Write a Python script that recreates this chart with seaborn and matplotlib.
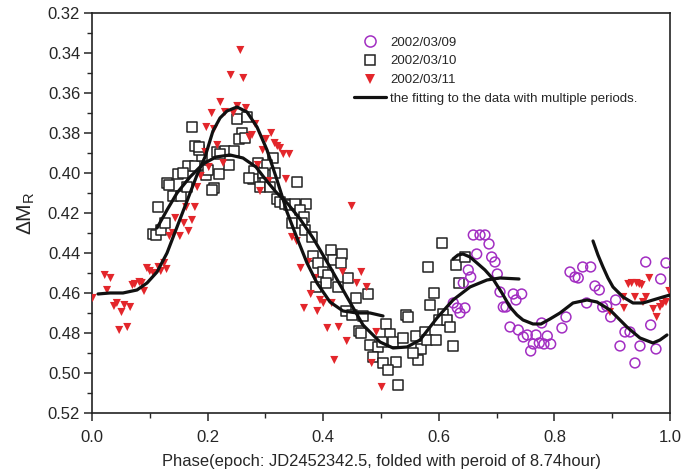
import numpy as np
import pandas as pd
import matplotlib
matplotlib.use("Agg")
import matplotlib.pyplot as plt
from matplotlib.lines import Line2D
from matplotlib.ticker import MultipleLocator, FormatStrFormatter
import seaborn as sns

# ---------------- data ----------------
# 2002/03/09 (open purple circles)
c09_phase = [0.6597, 0.6713, 0.6799, 0.6869, 0.6656, 0.6915, 0.6972, 0.651, 0.6552, 0.6424,
             0.7012, 0.7059, 0.7289, 0.7434, 0.7336, 0.7116, 0.7163, 0.7232, 0.7375, 0.7462,
             0.7531, 0.7682, 0.778, 0.7877, 0.7635, 0.759, 0.7739, 0.782, 0.7936, 0.8131,
             0.8201, 0.8558, 0.827, 0.8356, 0.8413, 0.849, 0.8628, 0.8702, 0.8777, 0.8836,
             0.8905, 0.8974, 0.906, 0.9135, 0.9221, 0.9308, 0.9394, 0.9481, 0.958, 0.9666,
             0.9758, 0.9839, 0.9931, 0.6251, 0.632, 0.6367, 0.6453]
c09_mag = [0.431, 0.431, 0.431, 0.4355, 0.4405, 0.442, 0.4445, 0.4485, 0.452, 0.455,
           0.4505, 0.4595, 0.4605, 0.4605, 0.4635, 0.467, 0.467, 0.477, 0.4785, 0.482,
           0.481, 0.481, 0.475, 0.4815, 0.4855, 0.489, 0.485, 0.4855, 0.4855, 0.4775,
           0.472, 0.465, 0.4495, 0.452, 0.4525, 0.447, 0.447, 0.4565, 0.4585, 0.467,
           0.4665, 0.472, 0.4635, 0.4865, 0.4795, 0.4795, 0.495, 0.4865, 0.4445, 0.476,
           0.488, 0.453, 0.445, 0.465, 0.4675, 0.470, 0.4675]

# 2002/03/10 (open black squares)
c10_phase = [0.105, 0.1107, 0.1189, 0.1263, 0.1147, 0.1396, 0.1535, 0.1301, 0.1337, 0.1488,
             0.1638, 0.1666, 0.1787, 0.1579, 0.2111, 0.2071, 0.1972, 0.2012, 0.2202, 0.2375,
             0.2157, 0.2301, 0.2457, 0.1898, 0.1856,
             0.1725, 0.1777, 0.1846, 0.2503, 0.2677, 0.259, 0.2548, 0.2647, 0.2215, 0.2867,
             0.3137, 0.3033, 0.2803, 0.278, 0.2721, 0.2953, 0.3161, 0.2993, 0.2907, 0.308,
             0.3542, 0.3196, 0.3253, 0.3339, 0.3414, 0.3512, 0.3702, 0.3599, 0.3668,
             0.3455, 0.3628, 0.3685, 0.3801, 0.3829, 0.3915, 0.3991, 0.4088, 0.4048, 0.3875,
             0.413, 0.4175, 0.432, 0.4303, 0.4434, 0.4261, 0.4567, 0.478, 0.4394, 0.4493,
             0.4694, 0.4614, 0.4649, 0.5087, 0.5156, 0.481, 0.4953, 0.5012, 0.5213, 0.5386,
             0.5606, 0.5761, 0.4867, 0.504, 0.526, 0.5126, 0.5645, 0.5687, 0.5547, 0.5299,
             0.5433, 0.5472, 0.5818, 0.5848,
             0.605, 0.6298, 0.6453, 0.6355, 0.5917, 0.6078, 0.6009, 0.6147, 0.6194, 0.5791,
             0.5952, 0.6251]
c10_mag = [0.4305, 0.431, 0.4285, 0.425, 0.417, 0.4115, 0.4115, 0.405, 0.406, 0.4005,
           0.407, 0.3965, 0.3965, 0.400, 0.4075, 0.4085, 0.401, 0.3985, 0.4005, 0.396,
           0.3895, 0.389, 0.389, 0.3915, 0.3885,
           0.377, 0.3865, 0.387, 0.373, 0.372, 0.380, 0.383, 0.3825, 0.3905, 0.395,
           0.3925, 0.396, 0.399, 0.403, 0.4025, 0.400, 0.400, 0.405, 0.407, 0.407,
           0.4045, 0.413, 0.4145, 0.4155, 0.416, 0.4155, 0.4155, 0.4185, 0.422,
           0.425, 0.425, 0.4285, 0.432, 0.4415, 0.445, 0.4495, 0.451, 0.455, 0.457,
           0.4385, 0.4435, 0.4405, 0.445, 0.4525, 0.457, 0.4625, 0.4605, 0.469, 0.471,
           0.4715, 0.479, 0.480, 0.4755, 0.4805, 0.486, 0.487, 0.4845, 0.4845, 0.4825,
           0.4815, 0.4795, 0.492, 0.495, 0.4945, 0.4985, 0.4935, 0.488, 0.490, 0.506,
           0.471, 0.472, 0.447, 0.466,
           0.435, 0.446, 0.442, 0.455, 0.460, 0.4705, 0.4735, 0.4735, 0.477, 0.4835,
           0.4835, 0.4865]

# 2002/03/11 (red down triangles)
c11_phase = [0.001, 0.022, 0.032, 0.026, 0.038, 0.043, 0.051, 0.056, 0.066, 0.047,
             0.061, 0.070, 0.074, 0.082, 0.086, 0.090, 0.095, 0.100, 0.106, 0.115,
             0.119, 0.129, 0.125, 0.134, 0.140, 0.144, 0.152, 0.159, 0.163, 0.167,
             0.173, 0.178, 0.182, 0.188, 0.202, 0.227, 0.196,
             0.2566, 0.240, 0.2618, 0.222, 0.2514, 0.2664, 0.2071, 0.230, 0.2445, 0.2825,
             0.1978, 0.211, 0.310, 0.2768, 0.2721, 0.301, 0.316, 0.3206, 0.3253, 0.2168,
             0.2953, 0.331, 0.3414, 0.2867, 0.3356, 0.3057, 0.2907,
             0.4493, 0.346, 0.3542, 0.361, 0.3742, 0.3858, 0.4337, 0.4659, 0.458, 0.4753,
             0.3784, 0.3945, 0.4002, 0.4147, 0.3668, 0.3898, 0.4071, 0.4268, 0.4407, 0.4919,
             0.4192, 0.4839, 0.5012,
             0.9279, 0.9337, 0.9424, 0.9469, 0.951, 0.9642, 0.9192, 0.9394, 0.9585, 0.9204,
             0.9533, 0.9711, 0.977, 0.9827, 0.9874, 0.9931, 0.9988, 0.8962]
c11_mag = [0.4625, 0.451, 0.4525, 0.4585, 0.4665, 0.465, 0.4695, 0.466, 0.467, 0.4785,
           0.477, 0.456, 0.4555, 0.4545, 0.455, 0.459, 0.4475, 0.449, 0.450, 0.447,
           0.449, 0.448, 0.445, 0.4315, 0.430, 0.4225, 0.4315, 0.425, 0.417, 0.429,
           0.4235, 0.417, 0.407, 0.4015, 0.397, 0.395, 0.3895,
           0.3385, 0.351, 0.3525, 0.3645, 0.3665, 0.3675, 0.370, 0.3695, 0.370, 0.3755,
           0.377, 0.378, 0.380, 0.381, 0.382, 0.383, 0.385, 0.3865, 0.3875, 0.386,
           0.3885, 0.3905, 0.3905, 0.396, 0.403, 0.404, 0.409,
           0.4165, 0.432, 0.434, 0.4475, 0.4445, 0.4525, 0.4495, 0.4495, 0.455, 0.457,
           0.4605, 0.4635, 0.465, 0.465, 0.4675, 0.469, 0.4775, 0.477, 0.484, 0.4795,
           0.4935, 0.495, 0.507,
           0.4555, 0.455, 0.455, 0.4555, 0.456, 0.4525, 0.462, 0.462, 0.462, 0.4675,
           0.4645, 0.468, 0.472, 0.467, 0.4655, 0.4645, 0.459, 0.4695]

# fitted curves (multi-period fits)
fitA_phase = [0.0104, 0.0311, 0.0536, 0.0779, 0.0952, 0.1125, 0.1298, 0.1471, 0.1644, 0.1817,
              0.1955, 0.2093, 0.2215, 0.2336, 0.2509, 0.2682, 0.2855, 0.3028, 0.3201, 0.3374,
              0.3547, 0.372, 0.3893, 0.4118, 0.4343, 0.4585, 0.481, 0.5035]
fitA_mag = [0.4605, 0.460, 0.460, 0.4585, 0.455, 0.4495, 0.440, 0.427, 0.414, 0.401,
            0.392, 0.379, 0.3725, 0.369, 0.367, 0.3695, 0.377, 0.3885, 0.4035, 0.4195,
            0.4325, 0.445, 0.455, 0.4645, 0.469, 0.470, 0.470, 0.4715]

fitB_phase = [0.1125, 0.1298, 0.1471, 0.1696, 0.192, 0.2145, 0.2388, 0.2612, 0.2837, 0.301,
              0.3183, 0.3391, 0.3599, 0.3824, 0.4118, 0.4412, 0.4689, 0.4983, 0.5208, 0.545,
              0.5675, 0.5969, 0.6246, 0.654, 0.6834, 0.7059, 0.7388]
fitB_mag = [0.4275, 0.4185, 0.410, 0.402, 0.3955, 0.392, 0.391, 0.3925, 0.397, 0.4035,
            0.4095, 0.4155, 0.423, 0.4325, 0.447, 0.462, 0.476, 0.4845, 0.4875, 0.487,
            0.4835, 0.4725, 0.4635, 0.457, 0.4535, 0.4525, 0.453]

fitC_phase = [0.6246, 0.6332, 0.6419, 0.654, 0.6661, 0.6799, 0.6938, 0.7093, 0.7232, 0.7353,
              0.7457, 0.763, 0.7768, 0.7924, 0.8097, 0.8322, 0.8564, 0.8737, 0.8962, 0.9135,
              0.9256, 0.9481, 0.9706, 0.9827, 0.9948]
fitC_mag = [0.443, 0.441, 0.4405, 0.442, 0.445, 0.4485, 0.453, 0.460, 0.467, 0.471,
            0.4735, 0.4755, 0.4755, 0.473, 0.470, 0.465, 0.4635, 0.4645, 0.4685, 0.4735,
            0.477, 0.4825, 0.485, 0.4835, 0.481]

fitD_phase = [0.8668, 0.8754, 0.8841, 0.8927, 0.9014, 0.9187, 0.936, 0.9533, 0.9706, 0.9879, 1.0]
fitD_mag = [0.434, 0.441, 0.447, 0.4525, 0.457, 0.462, 0.465, 0.465, 0.4635, 0.462, 0.461]

labels = ["2002/03/09", "2002/03/10", "2002/03/11",
          "the fitting to the data with multiple periods."]
xlabel = "Phase(epoch: JD2452342.5, folded with peroid of 8.74hour)"

# ---------------- style ----------------
sns.set_style("ticks")
plt.rcParams["font.family"] = ["Liberation Sans", "DejaVu Sans"]
plt.rcParams["mathtext.fontset"] = "custom"
plt.rcParams["mathtext.rm"] = "Liberation Sans"
plt.rcParams["mathtext.it"] = "Liberation Sans"

PURPLE = "#A22EC2"
RED = "#E3262B"

fig = plt.figure(figsize=(6.84, 4.76), dpi=100)
ax = fig.add_axes([0.1345, 0.1324, 0.845, 0.8403])

df09 = pd.DataFrame({"phase": c09_phase, "mag": c09_mag})
df10 = pd.DataFrame({"phase": c10_phase, "mag": c10_mag})
df11 = pd.DataFrame({"phase": c11_phase, "mag": c11_mag})

sns.scatterplot(data=df09, x="phase", y="mag", ax=ax, marker="o", s=50,
                facecolor="none", edgecolor=PURPLE, linewidth=1.1, zorder=3)
sns.scatterplot(data=df10, x="phase", y="mag", ax=ax, marker="s", s=52,
                facecolor="white", edgecolor="#222222", linewidth=1.1, zorder=2)
sns.scatterplot(data=df11, x="phase", y="mag", ax=ax, marker="v", s=34,
                color=RED, edgecolor="none", linewidth=0, zorder=4)

for xs, ys in [(fitA_phase, fitA_mag), (fitB_phase, fitB_mag),
               (fitC_phase, fitC_mag), (fitD_phase, fitD_mag)]:
    sns.lineplot(x=xs, y=ys, ax=ax, sort=False, estimator=None,
                 color="#111111", linewidth=2.3, zorder=5)

ax.set_xlim(0.0, 1.0)
ax.set_ylim(0.52, 0.32)
ax.xaxis.set_major_locator(MultipleLocator(0.2))
ax.xaxis.set_minor_locator(MultipleLocator(0.1))
ax.yaxis.set_major_locator(MultipleLocator(0.02))
ax.yaxis.set_minor_locator(MultipleLocator(0.01))
ax.xaxis.set_major_formatter(FormatStrFormatter("%.1f"))
ax.yaxis.set_major_formatter(FormatStrFormatter("%.2f"))
ax.tick_params(axis="both", which="major", direction="out", length=6, width=1.1,
               labelsize=12, top=False, right=False)
ax.tick_params(axis="both", which="minor", direction="out", length=3.5, width=1.0,
               top=False, right=False)
ax.tick_params(axis="x", which="major", pad=6)
ax.tick_params(axis="y", which="major", pad=2.5)
for sp in ax.spines.values():
    sp.set_visible(True)
    sp.set_linewidth(1.2)
    sp.set_color("#222222")

ax.set_xlabel(xlabel, fontsize=11.9, labelpad=7)
ax.set_ylabel(r"$\Delta$M$_\mathrm{R}$", fontsize=15, labelpad=8)

handles = [
    Line2D([], [], marker="o", linestyle="none", markersize=8, markerfacecolor="none",
           markeredgecolor=PURPLE, markeredgewidth=1.1),
    Line2D([], [], marker="s", linestyle="none", markersize=7.5, markerfacecolor="white",
           markeredgecolor="#222222", markeredgewidth=1.1),
    Line2D([], [], marker="v", linestyle="none", markersize=6.5, color=RED,
           markeredgewidth=0),
    Line2D([], [], color="#111111", linewidth=2.3),
]
ax.legend(handles, labels, loc="upper left", bbox_to_anchor=(0.445, 0.955),
          frameon=False, fontsize=9.5, handlelength=2.4, handletextpad=0.3,
          labelspacing=0.5, borderaxespad=0)

fig.savefig("out.png", dpi=100)
